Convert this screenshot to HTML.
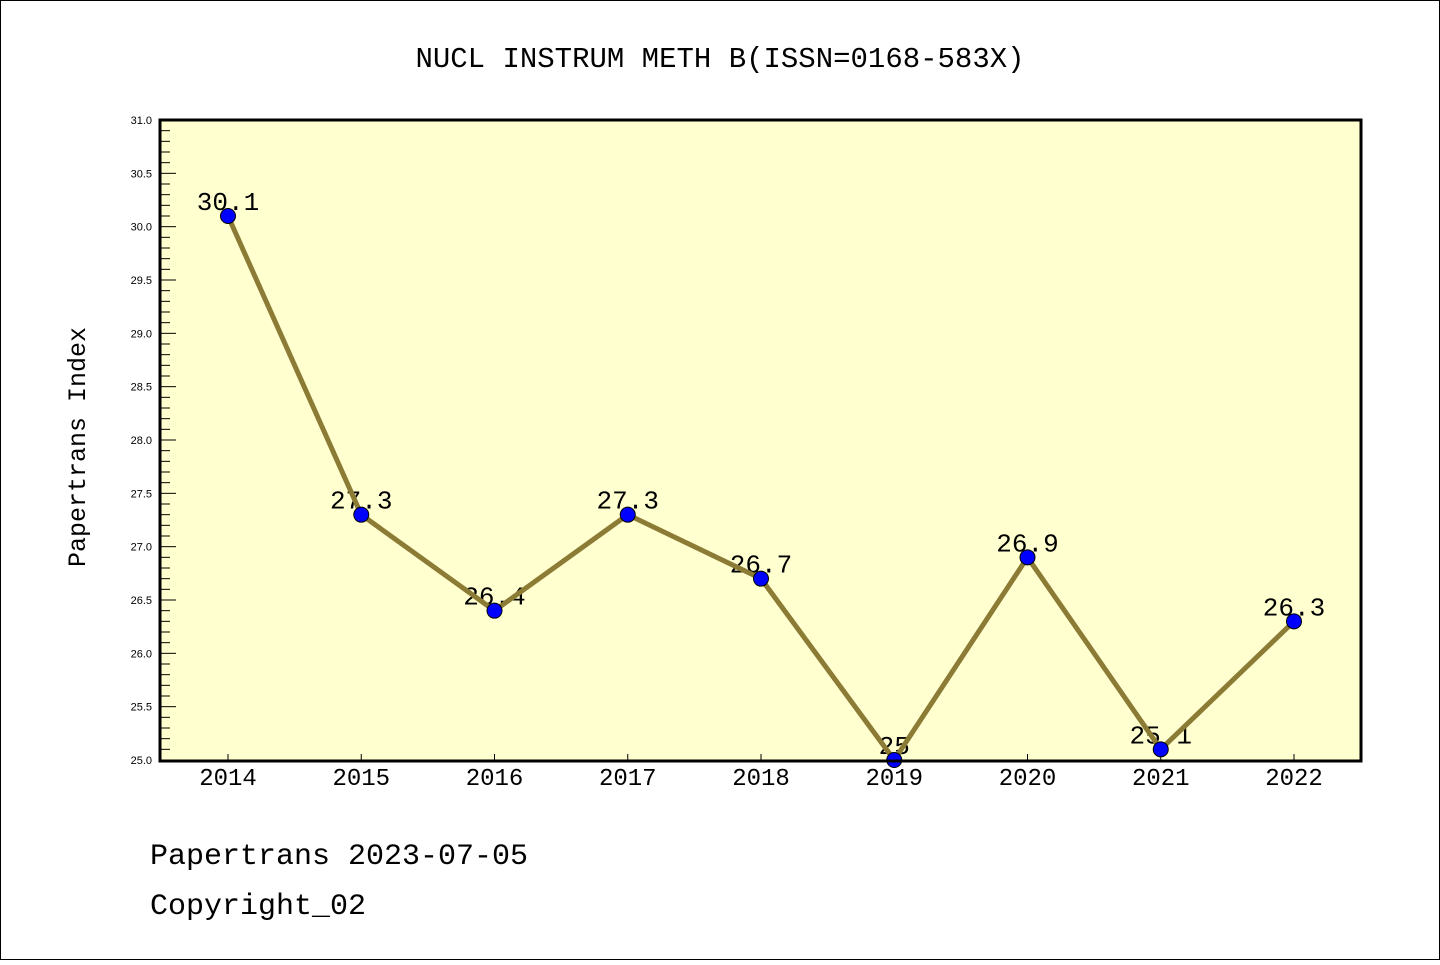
<!DOCTYPE html>
<html><head><meta charset="utf-8"><style>
body{margin:0;background:#fff;}
svg text{font-family:"Liberation Mono","WenQuanYi Zen Hei",monospace;}
svg text.sm{font-family:"Liberation Sans",sans-serif;}
</style></head><body>
<svg width="1440" height="960" xmlns="http://www.w3.org/2000/svg">
<rect x="0.5" y="0.5" width="1439" height="959" fill="#fff" stroke="#000"/>
<text x="720" y="67" font-size="29" text-anchor="middle">NUCL INSTRUM METH B(ISSN=0168-583X)</text>
<rect x="160" y="120" width="1201" height="641" fill="#ffffd0"/>
<g id="yaxis"></g>
<g id="xaxis"></g>
<g id="series"></g>
<rect x="160" y="120" width="1201" height="641" fill="none" stroke="#000" stroke-width="3"/>
<text transform="translate(85,447) rotate(-90)" font-size="25" text-anchor="middle">Papertrans Index</text>
<text x="150" y="864" font-size="30">Papertrans 2023-07-05</text>
<text x="150" y="914" font-size="30">Copyright_02</text>
</svg>
<script>
const years=["2014","2015","2016","2017","2018","2019","2020","2021","2022"];
const values=[30.1,27.3,26.4,27.3,26.7,25.0,26.9,25.1,26.3];
const valueLabels=["30.1","27.3","26.4","27.3","26.7","25","26.9","25.1","26.3"];
const yMin=25.0,yMax=31.0;
const NS="http://www.w3.org/2000/svg";
function yS(v){return 760-(v-yMin)/(yMax-yMin)*640;}
function xS(i){return 228+i*(1294-228)/(years.length-1);}
function mk(t,a,p,txt){const e=document.createElementNS(NS,t);for(const k in a)e.setAttribute(k,a[k]);if(txt!==undefined)e.textContent=txt;p.appendChild(e);return e;}
const ya=document.getElementById('yaxis'),xa=document.getElementById('xaxis'),se=document.getElementById('series');
for(let k=0;k<=60;k++){const v=yMin+k*0.1;const y=yS(v);const major=k%5===0;
 const t=mk('line',{x1:160,x2:major?176:170,y1:y,y2:y,stroke:'#000','stroke-width':1},ya);
 
 if(major){const l=mk('text',{x:152,y:y+4,'font-size':11,'text-anchor':'end','class':'sm'},ya,v.toFixed(1));
 }}
years.forEach((yr,i)=>{const x=xS(i);
 const t=mk('line',{x1:x,x2:x,y1:760,y2:754,stroke:'#000','stroke-width':1},xa);
 
 const l=mk('text',{x:x,y:785,'font-size':24,'text-anchor':'middle'},xa,yr);
 });
values.forEach((v,i)=>{const l=mk('text',{x:xS(i),y:yS(v)-6,'font-size':26,'text-anchor':'middle'},se,valueLabels[i]);
 });
const pl=mk('polyline',{points:values.map((v,i)=>xS(i)+','+yS(v)).join(' '),fill:'none',stroke:'#8b7b35','stroke-width':5},se);

values.forEach((v,i)=>{const c=mk('circle',{cx:xS(i),cy:yS(v),r:7.5,fill:'#0000ff',stroke:'#000','stroke-width':1},se);
 });
</script>
</body></html>
